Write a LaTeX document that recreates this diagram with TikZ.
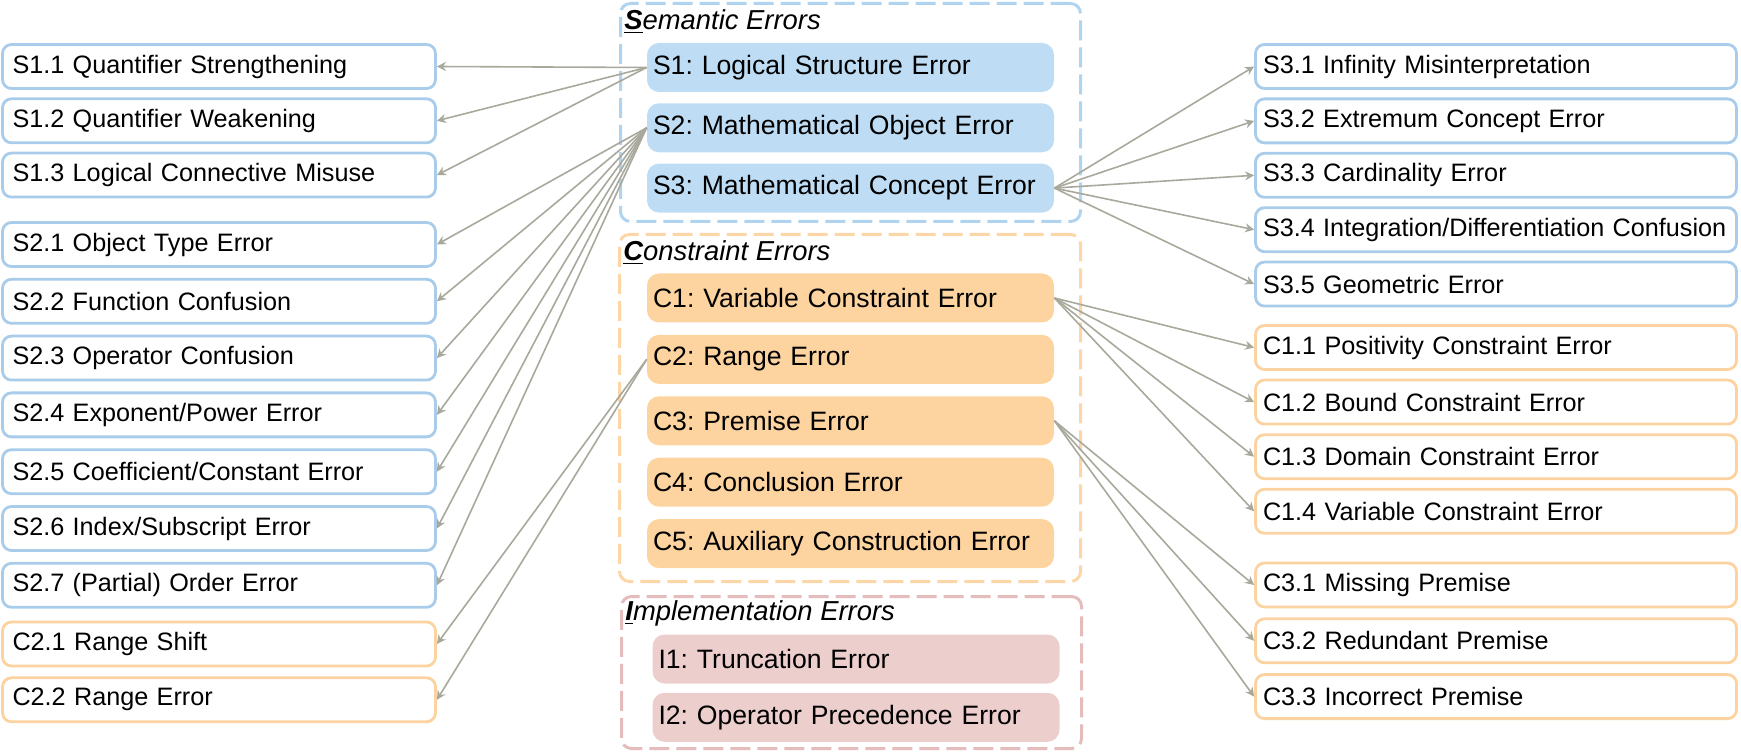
\documentclass[tikz,border=0pt]{standalone}
\usepackage{fontspec}
\setmainfont{Liberation Sans}
\usepackage{xcolor}
\usepackage{tikz}
\usetikzlibrary{arrows.meta, positioning, calc}
\frenchspacing

\definecolor{sline}{RGB}{168,204,234}
\definecolor{sfill}{RGB}{190,221,244}
\definecolor{sdash}{RGB}{176,212,240}
\definecolor{cline}{RGB}{252,211,160}
\definecolor{cfill}{RGB}{253,212,160}
\definecolor{cdash}{RGB}{252,214,166}
\definecolor{ifill}{RGB}{236,206,205}
\definecolor{idash}{RGB}{228,188,188}
\definecolor{linkgray}{RGB}{168,168,156}

\begin{document}
\begin{tikzpicture}[
      x=0.5pt, y=-0.5pt,
      leaf/.style ={rectangle, rounded corners=4.5pt, line width=1.4pt, fill=white, align=left,
                    inner xsep=5pt, minimum height=22pt, font=\fontsize{12.6pt}{15pt}\selectfont},
      lleaf/.style={leaf, text width=206.5pt},
      rleaf/.style={leaf, inner xsep=3.75pt, text width=233pt},
      cat/.style  ={rectangle, rounded corners=6pt, align=left, text width=197.5pt, inner xsep=3pt,
                    minimum height=24.5pt, font=\fontsize{13.3pt}{15pt}\selectfont},
      grp/.style  ={rectangle, rounded corners=5pt, line width=1.5pt, dash pattern=on 10pt off 3.5pt},
      title/.style={anchor=base west, inner sep=0pt, font=\fontsize{13.7pt}{16pt}\selectfont\itshape},
      link/.style ={-{Stealth[length=4.5pt, width=4.5pt]}, draw=linkgray, line width=0.8pt}
    ]
    \useasboundingbox (0,0) rectangle (1741,753);

    % Semantic errors
    \node[grp, draw=sdash, minimum width=230pt, minimum height=109pt] (SG) at (850.5,112.5) {};
    \node[title] (SGt) at ($(SG.north west)+(5,27.5)$) {\underline{\textbf{S}}emantic Errors};
    \node[cat, fill=sfill]                   (S1) at (850.5,67.5) {S1: Logical Structure Error};
    \node[cat, fill=sfill, below=5.25pt of S1] (S2) {S2: Mathematical Object Error};
    \node[cat, fill=sfill, below=5.25pt of S2] (S3) {S3: Mathematical Concept Error};

    % Constraint errors
    \node[grp, draw=cdash, minimum width=230.5pt, minimum height=173.5pt] (CG) at (850,408) {};
    \node[title] (CGt) at ($(CG.north west)+(5,27.5)$) {\underline{\textbf{C}}onstraint Errors};
    \node[cat, fill=cfill]                   (C1) at (850.5,298) {C1: Variable Constraint Error};
    \node[cat, fill=cfill, below=5.8pt of C1] (C2) {C2: Range Error};
    \node[cat, fill=cfill, below=5.8pt of C2] (C3) {C3: Premise Error};
    \node[cat, fill=cfill, below=5.8pt of C3] (C4) {C4: Conclusion Error};
    \node[cat, fill=cfill, below=5.8pt of C4] (C5) {C5: Auxiliary Construction Error};

    % Implementation errors
    \node[grp, draw=idash, minimum width=230pt, minimum height=76pt] (IG) at (851.5,672.5) {};
    \node[title] (IGt) at ($(IG.north west)+(5,25.5)$) {\underline{\textbf{I}}mplementation Errors};
    \node[cat, fill=ifill]                    (I1) at (856,659) {I1: Truncation Error};
    \node[cat, fill=ifill, below=4.25pt of I1] (I2) {I2: Operator Precedence Error};

    % Left column
    \node[lleaf, draw=sline]                    (S11) at (219,66.5) {S1.1 Quantifier Strengthening};
    \node[lleaf, draw=sline, below=3.75pt of S11] (S12) {S1.2 Quantifier Weakening};
    \node[lleaf, draw=sline, below=3.75pt of S12] (S13) {S1.3 Logical Connective Misuse};

    \node[lleaf, draw=sline]                 (S21) at (219,244.5) {S2.1 Object Type Error};
    \node[lleaf, draw=sline, below=5pt of S21] (S22) {S2.2 Function Confusion};
    \node[lleaf, draw=sline, below=5pt of S22] (S23) {S2.3 Operator Confusion};
    \node[lleaf, draw=sline, below=5pt of S23] (S24) {S2.4 Exponent/Power Error};
    \node[lleaf, draw=sline, below=5pt of S24] (S25) {S2.5 Coefficient/Constant Error};
    \node[lleaf, draw=sline, below=5pt of S25] (S26) {S2.6 Index/Subscript Error};
    \node[lleaf, draw=sline, below=5pt of S26] (S27) {S2.7 (Partial) Order Error};

    \node[lleaf, draw=cline]                   (C21) at (219,644) {C2.1 Range Shift};
    \node[lleaf, draw=cline, below=4.5pt of C21] (C22) {C2.2 Range Error};

    % Right column
    \node[rleaf, draw=sline]                   (S31) at (1496,66.5) {S3.1 Infinity Misinterpretation};
    \node[rleaf, draw=sline, below=3.8pt of S31] (S32) {S3.2 Extremum Concept Error};
    \node[rleaf, draw=sline, below=3.8pt of S32] (S33) {S3.3 Cardinality Error};
    \node[rleaf, draw=sline, below=3.8pt of S33] (S34) {\mbox{S3.4 Integration/Differentiation Confusion}};
    \node[rleaf, draw=sline, below=3.8pt of S34] (S35) {S3.5 Geometric Error};

    \node[rleaf, draw=cline]                   (C11) at (1496,347.5) {C1.1 Positivity Constraint Error};
    \node[rleaf, draw=cline, below=3.9pt of C11] (C12) {C1.2 Bound Constraint Error};
    \node[rleaf, draw=cline, below=3.9pt of C12] (C13) {C1.3 Domain Constraint Error};
    \node[rleaf, draw=cline, below=3.9pt of C13] (C14) {C1.4 Variable Constraint Error};

    \node[rleaf, draw=cline]                   (C31) at (1496,585) {C3.1 Missing Premise};
    \node[rleaf, draw=cline, below=4.5pt of C31] (C32) {C3.2 Redundant Premise};
    \node[rleaf, draw=cline, below=4.5pt of C32] (C33) {C3.3 Incorrect Premise};

    % Piler til venstre
    \draw[link] (S1.west) -- (S11.east);
    \draw[link] (S1.west) -- (S12.east);
    \draw[link] (S1.west) -- (S13.east);
    \draw[link] (S2.west) -- (S21.east);
    \draw[link] (S2.west) -- (S22.east);
    \draw[link] (S2.west) -- (S23.east);
    \draw[link] (S2.west) -- (S24.east);
    \draw[link] (S2.west) -- (S25.east);
    \draw[link] (S2.west) -- (S26.east);
    \draw[link] (S2.west) -- (S27.east);
    \draw[link] (C2.west) -- (C21.east);
    \draw[link] (C2.west) -- (C22.east);

    % Piler til hoyre
    \draw[link] (S3.east) -- (S31.west);
    \draw[link] (S3.east) -- (S32.west);
    \draw[link] (S3.east) -- (S33.west);
    \draw[link] (S3.east) -- (S34.west);
    \draw[link] (S3.east) -- (S35.west);
    \draw[link] (C1.east) -- (C11.west);
    \draw[link] (C1.east) -- (C12.west);
    \draw[link] (C1.east) -- (C13.west);
    \draw[link] (C1.east) -- (C14.west);
    \draw[link] (C3.east) -- (C31.west);
    \draw[link] (C3.east) -- (C32.west);
    \draw[link] (C3.east) -- (C33.west);

  \end{tikzpicture}
\end{document}
